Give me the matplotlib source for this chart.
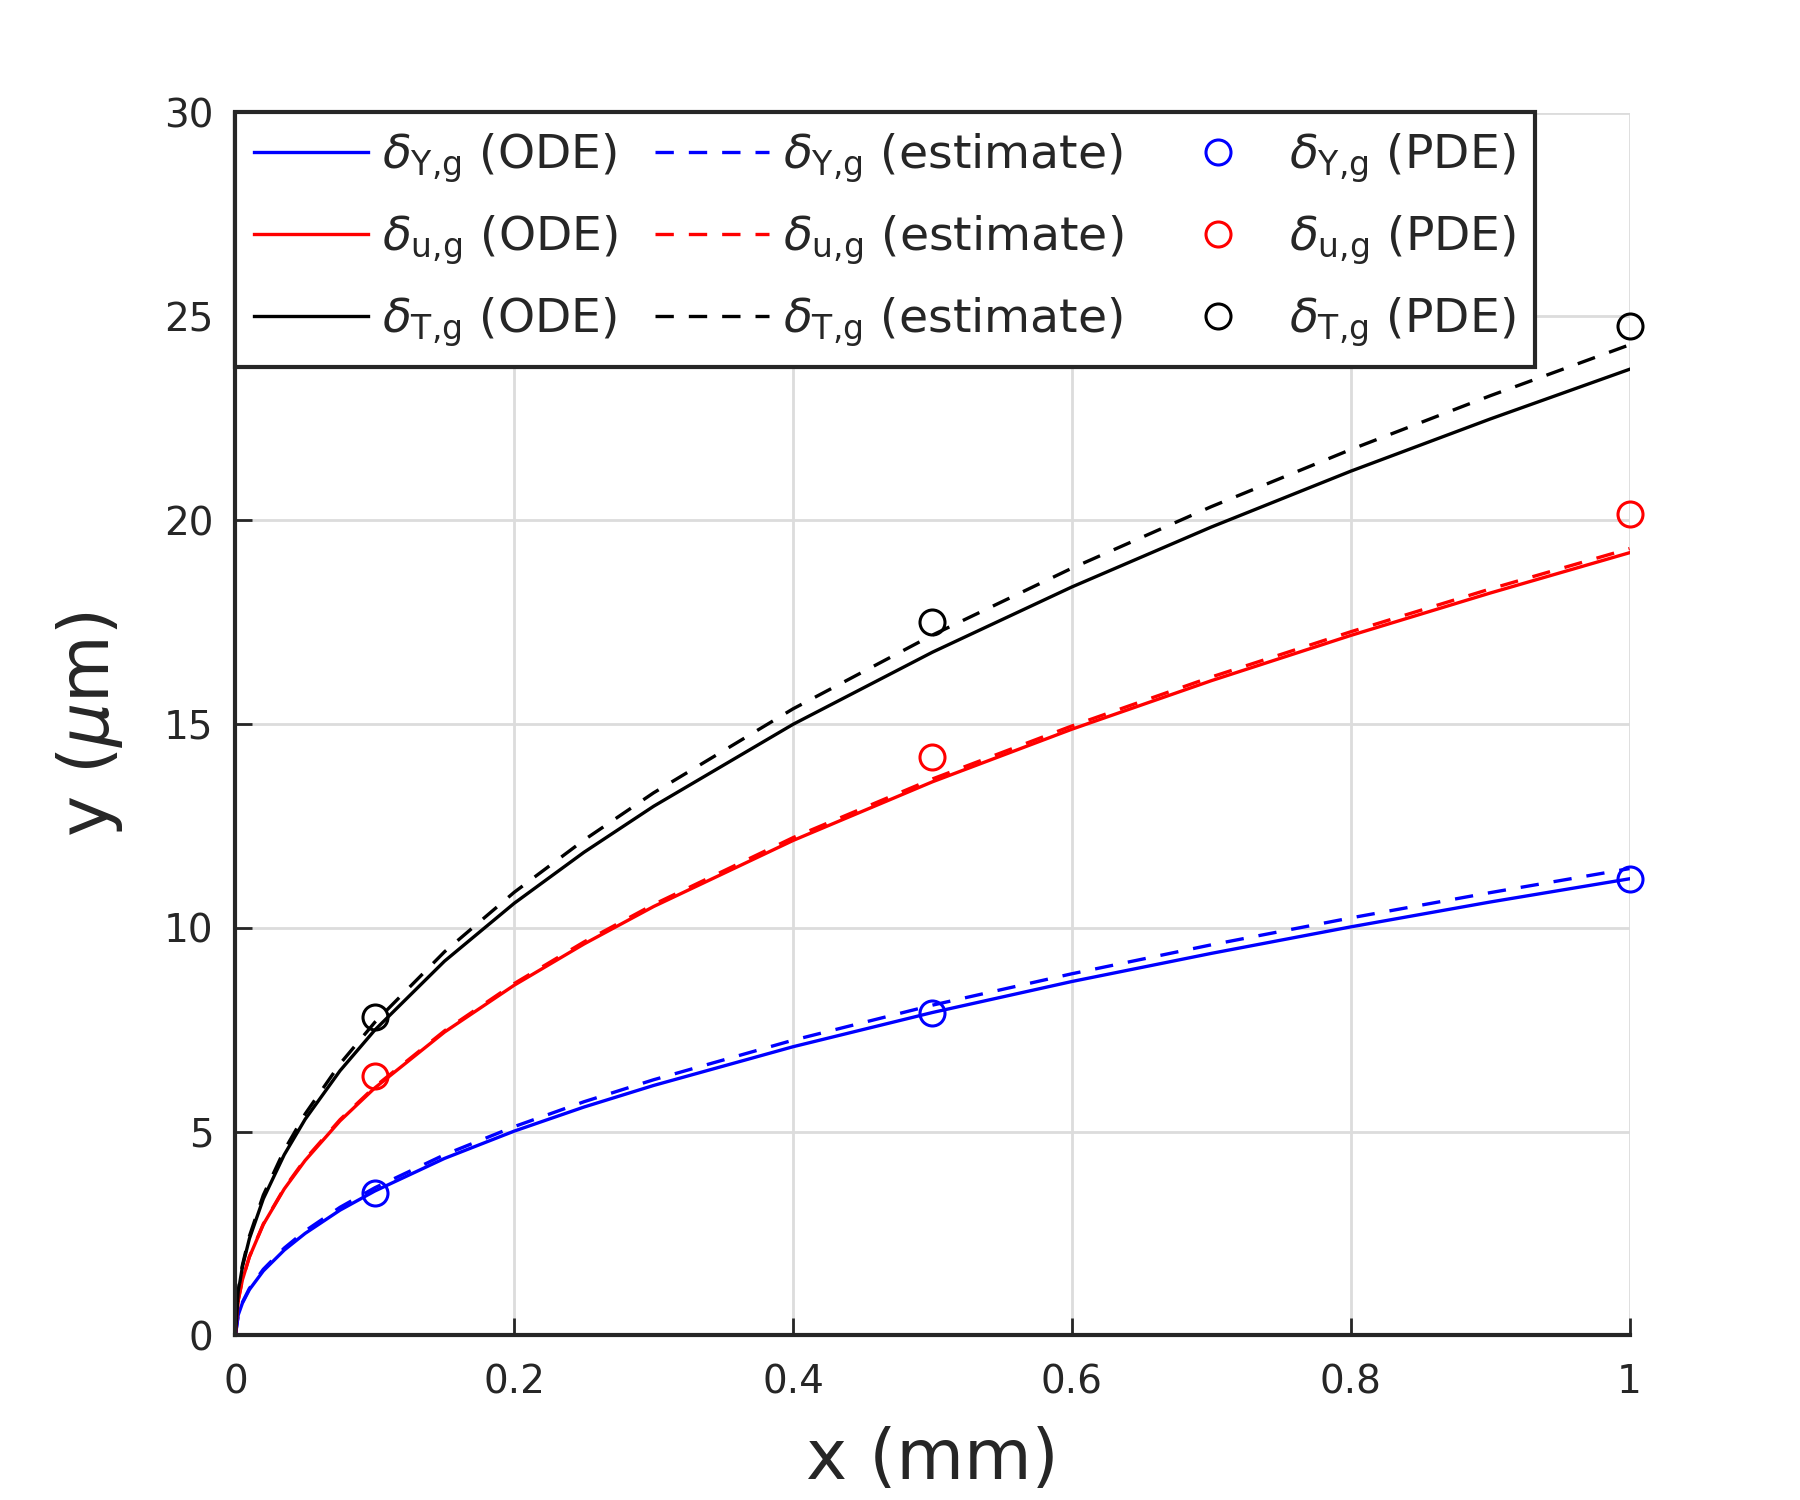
import matplotlib
matplotlib.use("Agg")
import matplotlib.pyplot as plt
import numpy as np

x_mm = [0, 0.002, 0.005, 0.01, 0.02, 0.035, 0.05, 0.075, 0.1, 0.15, 0.2,
        0.25, 0.3, 0.4, 0.5, 0.6, 0.7, 0.8, 0.9, 1.0]

dY_ode = [0, 0.50, 0.79, 1.12, 1.58, 2.09, 2.50, 3.07, 3.54, 4.34, 5.01,
          5.60, 6.13, 7.08, 7.92, 8.68, 9.37, 10.02, 10.63, 11.20]
dY_est = [0, 0.51, 0.81, 1.15, 1.62, 2.14, 2.56, 3.14, 3.62, 4.43, 5.12,
          5.73, 6.27, 7.24, 8.10, 8.87, 9.58, 10.24, 10.86, 11.45]
du_ode = [0, 0.86, 1.36, 1.92, 2.72, 3.59, 4.29, 5.26, 6.07, 7.44, 8.59,
          9.60, 10.52, 12.14, 13.58, 14.87, 16.06, 17.17, 18.21, 19.20]
du_est = [0, 0.86, 1.36, 1.93, 2.73, 3.61, 4.32, 5.29, 6.10, 7.47, 8.63,
          9.65, 10.57, 12.21, 13.65, 14.95, 16.15, 17.26, 18.31, 19.30]
dT_ode = [0, 1.06, 1.68, 2.37, 3.35, 4.43, 5.30, 6.49, 7.49, 9.18, 10.60,
          11.85, 12.98, 14.99, 16.76, 18.36, 19.83, 21.20, 22.48, 23.70]
dT_est = [0, 1.09, 1.72, 2.43, 3.44, 4.54, 5.43, 6.66, 7.68, 9.41, 10.87,
          12.15, 13.31, 15.37, 17.18, 18.82, 20.33, 21.73, 23.05, 24.30]

# PDE samples
x_pde = [0.1, 0.5, 1.0]
dY_pde = [3.50, 7.90, 11.20]
du_pde = [6.35, 14.20, 20.15]
dT_pde = [7.80, 17.50, 24.75]

dark = "#262626"
plt.rcParams["text.color"] = dark
plt.rcParams["axes.labelcolor"] = dark
plt.rcParams["xtick.color"] = dark
plt.rcParams["ytick.color"] = dark

fig = plt.figure(figsize=(9, 7.5), dpi=200)
ax = fig.add_axes([0.1308, 0.1098, 0.7745, 0.8152])

lw = 1.2
dash = (0, (5.5, 4.5))
ax.plot(x_mm, dY_ode, color="#0000ff", lw=lw, label=r"$\delta_{\mathrm{Y{,}g}}$ (ODE)")
ax.plot(x_mm, du_ode, color="#ff0000", lw=lw, label=r"$\delta_{\mathrm{u{,}g}}$ (ODE)")
ax.plot(x_mm, dT_ode, color="#000000", lw=lw, label=r"$\delta_{\mathrm{T{,}g}}$ (ODE)")
ax.plot(x_mm, dY_est, color="#0000ff", lw=lw, ls=dash, label=r"$\delta_{\mathrm{Y{,}g}}$ (estimate)")
ax.plot(x_mm, du_est, color="#ff0000", lw=lw, ls=dash, label=r"$\delta_{\mathrm{u{,}g}}$ (estimate)")
ax.plot(x_mm, dT_est, color="#000000", lw=lw, ls=dash, label=r"$\delta_{\mathrm{T{,}g}}$ (estimate)")
ms = 9
ax.plot(x_pde, dY_pde, "o", mfc="none", mec="#0000ff", ms=ms, mew=1.1, label=r"$\delta_{\mathrm{Y{,}g}}$ (PDE)", clip_on=False)
ax.plot(x_pde, du_pde, "o", mfc="none", mec="#ff0000", ms=ms, mew=1.1, label=r"$\delta_{\mathrm{u{,}g}}$ (PDE)", clip_on=False)
ax.plot(x_pde, dT_pde, "o", mfc="none", mec="#000000", ms=ms, mew=1.1, label=r"$\delta_{\mathrm{T{,}g}}$ (PDE)", clip_on=False)

ax.set_xlim(0, 1)
ax.set_ylim(0, 30)
ax.set_xticks([0, 0.2, 0.4, 0.6, 0.8, 1])
ax.set_xticklabels(["0", "0.2", "0.4", "0.6", "0.8", "1"])
ax.set_yticks([0, 5, 10, 15, 20, 25, 30])
ax.tick_params(direction="in", length=6, width=1.0, labelsize=14, pad=8)
ax.tick_params(axis="x", pad=10)
ax.grid(True, color="#dcdcdc", lw=1.0)
ax.set_axisbelow(True)
for s in ["top", "right"]:
    ax.spines[s].set_visible(False)
for s in ["left", "bottom"]:
    ax.spines[s].set_linewidth(1.5)
    ax.spines[s].set_color(dark)

ax.set_xlabel("x (mm)", fontsize=25, labelpad=9)
ax.set_ylabel(r"y ($\mu$m)", fontsize=25, labelpad=14)

leg = ax.legend(ncol=3, loc="upper left", bbox_to_anchor=(0, 1.0), borderaxespad=0,
                fontsize=17, handlelength=2.4, columnspacing=0.8, handletextpad=0.3,
                labelspacing=0.6, frameon=True, fancybox=False, framealpha=1)
leg.get_frame().set_edgecolor(dark)
leg.get_frame().set_linewidth(1.5)

fig.savefig("out.png", dpi=200)
